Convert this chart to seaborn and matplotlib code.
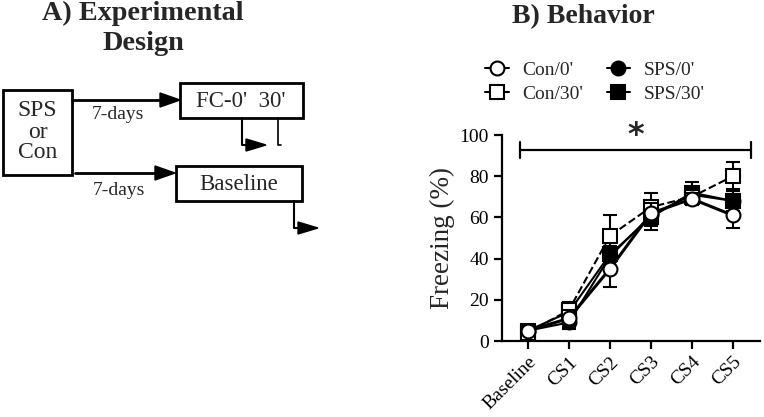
import matplotlib
matplotlib.use("Agg")
import matplotlib.pyplot as plt
import seaborn as sns
import numpy as np
import pandas as pd
from matplotlib.lines import Line2D
from matplotlib.patches import Rectangle, Polygon

sns.set_style("white")
plt.rcParams['font.family'] = ['Liberation Serif', 'DejaVu Serif']

# ---------------- data ----------------
phases = ["Baseline", "CS1", "CS2", "CS3", "CS4", "CS5"]
groups = ["Con/0'", "Con/30'", "SPS/0'", "SPS/30'"]
con0 = [5, 11, 35, 62, 69, 61]
con0_err = [2, 4, 9, 5, 3, 6]
con30 = [4, 15, 51, 65, 70, 80]
con30_err = [2, 4, 10, 7, 4, 7]
sps0 = [5, 9, 41, 61, 71, 68]
sps0_err = [2, 3, 5, 5, 4, 5]
sps30 = [5, 14, 42, 60, 72, 68]
sps30_err = [2, 4, 6, 6, 5, 6]
yticks = [0, 20, 40, 60, 80, 100]
sig_label = "*"

series = {"Con/0'": (con0, con0_err), "Con/30'": (con30, con30_err),
          "SPS/0'": (sps0, sps0_err), "SPS/30'": (sps30, sps30_err)}
styles = {
    "Con/0'": dict(marker="o", mfc="white", ls="-", lw=2.2, z=6),
    "Con/30'": dict(marker="s", mfc="white", ls="--", lw=1.5, z=5),
    "SPS/0'": dict(marker="o", mfc="black", ls="-", lw=1.5, z=4),
    "SPS/30'": dict(marker="s", mfc="black", ls="-", lw=1.5, z=3),
}

rows = []
for g in groups:
    for i, p in enumerate(phases):
        rows.append(dict(group=g, x=i, phase=p, value=series[g][0][i], err=series[g][1][i]))
df = pd.DataFrame(rows)

fig = plt.figure(figsize=(7.64, 4.17), dpi=100)

# ---------------- panel B ----------------
ax = fig.add_axes([502/764, 1-341/417, (760-502)/764, (341-135)/417])
for g in ["SPS/30'", "SPS/0'", "Con/30'", "Con/0'"]:
    st = styles[g]
    sub = df[df.group == g]
    ax.errorbar(sub.x, sub.value, yerr=sub.err, fmt="none", ecolor="black",
                elinewidth=1.5, capsize=5, capthick=1.5, zorder=st["z"])
    sns.lineplot(data=sub, x="x", y="value", ax=ax, color="black",
                 linestyle=st["ls"], linewidth=st["lw"], marker=st["marker"],
                 markersize=10, markerfacecolor=st["mfc"], markeredgecolor="black",
                 markeredgewidth=1.5, zorder=st["z"], legend=False, errorbar=None)

ax.set_xlim(-0.63, 5.66)
ax.set_ylim(0, 100)
ax.set_yticks(yticks)
ax.set_xticks(range(len(phases)))
ax.set_xticklabels(phases, rotation=45, ha="right", rotation_mode="anchor", fontsize=14)
ax.tick_params(axis="y", labelsize=14)
ax.tick_params(axis="x", pad=3)
ax.set_xlabel("")
ax.set_ylabel("Freezing (%)", fontsize=19.5, labelpad=3)
for s in ["top", "right"]:
    ax.spines[s].set_visible(False)
for s in ["left", "bottom"]:
    ax.spines[s].set_linewidth(1.6)
    ax.spines[s].set_color("black")
ax.tick_params(direction="out", length=6, width=1.6, colors="black", left=True, bottom=True)

# significance bar
ax.plot([-0.2, 5.45], [92.7, 92.7], color="black", lw=1.6, clip_on=False)
ax.plot([-0.2, -0.2], [89, 96.5], color="black", lw=1.6, clip_on=False)
ax.plot([5.45, 5.45], [89, 96.5], color="black", lw=1.6, clip_on=False)
ax.text(2.64, 92, sig_label, ha="center", va="bottom", fontsize=23, fontweight="bold",
        fontfamily="DejaVu Sans", clip_on=False)

handles = []
for g in groups:
    st = styles[g]
    handles.append(Line2D([], [], color="black", lw=1.5, marker=st["marker"],
                          markersize=10, markerfacecolor=st["mfc"],
                          markeredgecolor="black", markeredgewidth=1.5))
fig.legend(handles, groups, ncol=2, loc="center", bbox_to_anchor=(595/764, 1-82/417),
           frameon=False, fontsize=14, handlelength=1.2, columnspacing=1.2,
           labelspacing=0.3, handletextpad=0.7)

fig.text(583/764, 1-17/417, "B) Behavior", ha="center", va="center", fontsize=20,
         fontweight="bold")

# ---------------- panel A (diagram) ----------------
axa = fig.add_axes([0, 0, 360/764, 1])
axa.set_xlim(0, 360)
axa.set_ylim(417, 0)
axa.axis("off")

fig.text(143/764, 1-13/417, "A) Experimental", ha="center", va="center", fontsize=20.3, fontweight="bold")
fig.text(143/764, 1-43/417, "Design", ha="center", va="center", fontsize=20.3, fontweight="bold")

def box(x0, y0, x1, y1):
    axa.add_patch(Rectangle((x0, y0), x1-x0, y1-y0, fill=False, lw=2, ec="black"))

def arrow(x0, x1, y, head=20, hh=7):
    axa.plot([x0, x1-head], [y, y], color="black", lw=2)
    axa.add_patch(Polygon([[x1-head, y-hh], [x1, y], [x1-head, y+hh]], closed=True, color="black"))

box(3, 90, 72, 175)
axa.text(37.5, 132, "SPS\nor\nCon", ha="center", va="center", fontsize=17, linespacing=1.0)
box(180, 83, 303, 118)
axa.text(241, 101, "FC-0'  30'", ha="center", va="center", fontsize=16.5)
box(176, 166, 302, 201)
axa.text(239, 184, "Baseline", ha="center", va="center", fontsize=16.5)

arrow(72, 180, 100)
axa.text(118, 114, "7-days", ha="center", va="center", fontsize=14)
arrow(75, 175, 173)
axa.text(119, 190, "7-days", ha="center", va="center", fontsize=14)

axa.plot([242, 242, 248], [118, 145, 145], color="black", lw=1.5)
axa.add_patch(Polygon([[246, 139], [266, 145], [246, 151]], closed=True, color="black"))
axa.plot([278, 278, 281], [118, 145, 145], color="black", lw=1.2)
axa.plot([294, 294, 300], [201, 228, 228], color="black", lw=1.5)
axa.add_patch(Polygon([[298, 222], [318, 228], [298, 234]], closed=True, color="black"))

fig.savefig("out.png", dpi=100)
